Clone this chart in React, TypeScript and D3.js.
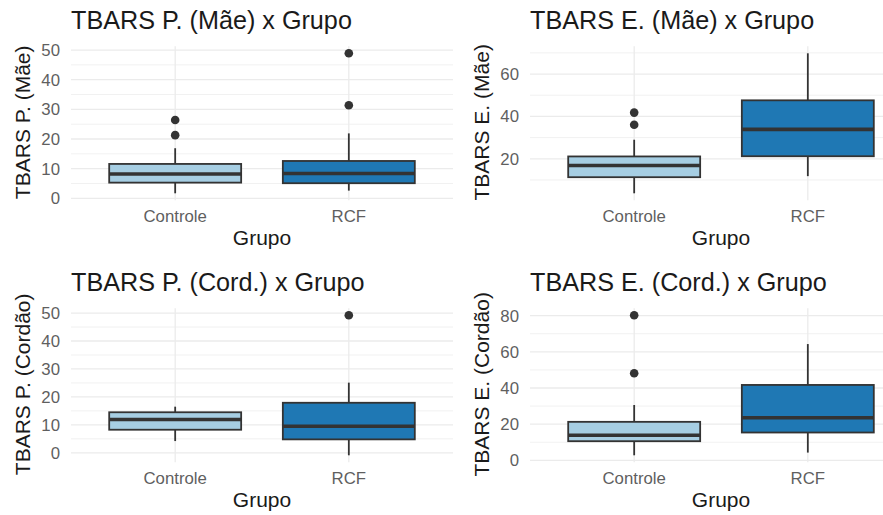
import React from "react";
import * as d3 from "d3";

const groups = ["Controle", "RCF"];
const fills = ["#a6cee3", "#1f78b4"];

const panelTitles = [
  "TBARS P. (Mãe) x Grupo",
  "TBARS E. (Mãe) x Grupo",
  "TBARS P. (Cord.) x Grupo",
  "TBARS E. (Cord.) x Grupo",
];
const yTitles = ["TBARS P. (Mãe)", "TBARS E. (Mãe)", "TBARS P. (Cordão)", "TBARS E. (Cordão)"];
const xTitle = "Grupo";

// [lower whisker, Q1, median, Q3, upper whisker] per group
const pMaeStats = [[1.7, 5.3, 8.2, 11.6, 16.9], [2.6, 5.1, 8.4, 12.6, 21.9]];
const pMaeOutliers = [[21.3, 26.4], [31.4, 48.9]];
const eMaeStats = [[3.7, 11.3, 16.8, 21.1, 29.0], [11.8, 21.2, 33.9, 47.6, 69.8]];
const eMaeOutliers = [[36.1, 41.8], []];
const pCordStats = [[4.2, 8.25, 11.9, 14.5, 16.5], [-0.9, 4.8, 9.5, 17.9, 25.1]];
const pCordOutliers = [[], [49.2]];
const eCordStats = [[2.8, 10.6, 13.9, 21.3, 30.6], [4.3, 15.4, 23.6, 41.7, 64.3]];
const eCordOutliers = [[48.2, 80.2], []];

const pMaeTicks = [0, 10, 20, 30, 40, 50];
const eMaeTicks = [20, 40, 60];
const pCordTicks = [0, 10, 20, 30, 40, 50];
const eCordTicks = [0, 20, 40, 60, 80];

const panelStats = [pMaeStats, eMaeStats, pCordStats, eCordStats];
const panelOutliers = [pMaeOutliers, eMaeOutliers, pCordOutliers, eCordOutliers];
const panelTicks = [pMaeTicks, eMaeTicks, pCordTicks, eCordTicks];

const W = 883;
const H = 515;
const colX = [71, 530];
const panelW = 382;
const rowY = [46.3, 308.3];
const panelH = 154;
const FONT = "'Liberation Sans', Arial, Helvetica, sans-serif";

function Panel({ idx }: { idx: number }) {
  const stats = panelStats[idx];
  const outs = panelOutliers[idx];
  const ticks = panelTicks[idx];
  const x0 = colX[idx % 2];
  const y0 = rowY[Math.floor(idx / 2)];
  const all = [...stats.flat(), ...outs.flat()];
  const mn = d3.min(all) as number;
  const mx = d3.max(all) as number;
  const ex = (mx - mn) * 0.05;
  const y = d3.scaleLinear().domain([mn - ex, mx + ex]).range([y0 + panelH, y0]);
  const x = d3.scalePoint<string>().domain(groups).range([x0, x0 + panelW]).padding(0.6);
  const step = x.step();
  const bw = step * 0.76;
  const [d0, d1] = y.domain();
  const majorStep = ticks[1] - ticks[0];
  const minors: number[] = [];
  const ext = [ticks[0] - majorStep, ...ticks, ticks[ticks.length - 1] + majorStep];
  for (let i = 0; i < ext.length - 1; i++) {
    const m = (ext[i] + ext[i + 1]) / 2;
    if (m >= d0 && m <= d1) minors.push(m);
  }
  const gridColor = "#ebebeb";
  const dark = "#333333";
  const yTitleX = x0 - 41;
  return (
    <g>
      <text x={x0} y={y0 - 17} fontSize={25.2} fill="#1a1a1a" fontFamily={FONT}>
        {panelTitles[idx]}
      </text>
      {minors.map((m) => (
        <line key={"mi" + m} x1={x0} x2={x0 + panelW} y1={y(m)} y2={y(m)} stroke={gridColor} strokeWidth={0.7} />
      ))}
      {ticks.map((t) => (
        <line key={"ma" + t} x1={x0} x2={x0 + panelW} y1={y(t)} y2={y(t)} stroke={gridColor} strokeWidth={1.3} />
      ))}
      {groups.map((g) => (
        <line key={"v" + g} x1={x(g)} x2={x(g)} y1={y0} y2={y0 + panelH} stroke={gridColor} strokeWidth={1.3} />
      ))}
      {ticks.map((t) => (
        <text key={"tl" + t} x={x0 - 11} y={y(t)} dy="0.36em" textAnchor="end" fontSize={16.8} fill="#5f5f5f" fontFamily={FONT}>
          {t}
        </text>
      ))}
      {groups.map((g) => (
        <text key={"xl" + g} x={x(g)} y={y0 + panelH + 22} textAnchor="middle" fontSize={16.8} fill="#5f5f5f" fontFamily={FONT}>
          {g}
        </text>
      ))}
      <text x={(x0 + x0 + panelW) / 2} y={y0 + panelH + 44.5} textAnchor="middle" fontSize={21} fill="#1a1a1a" fontFamily={FONT}>
        {xTitle}
      </text>
      <text
        transform={`translate(${yTitleX},${y0 + panelH / 2 - 1}) rotate(-90)`}
        textAnchor="middle"
        fontSize={21}
        fill="#1a1a1a"
        fontFamily={FONT}
      >
        {yTitles[idx]}
      </text>
      {groups.map((g, gi) => {
        const s = stats[gi];
        const cx = x(g) as number;
        return (
          <g key={"b" + g}>
            <line x1={cx} x2={cx} y1={y(s[0])} y2={y(s[1])} stroke={dark} strokeWidth={1.8} />
            <line x1={cx} x2={cx} y1={y(s[3])} y2={y(s[4])} stroke={dark} strokeWidth={1.8} />
            <rect x={cx - bw / 2} y={y(s[3])} width={bw} height={y(s[1]) - y(s[3])} fill={fills[gi]} stroke={dark} strokeWidth={1.8} />
            <line x1={cx - bw / 2} x2={cx + bw / 2} y1={y(s[2])} y2={y(s[2])} stroke={dark} strokeWidth={3.6} />
            {outs[gi].map((o) => (
              <circle key={"o" + o} cx={cx} cy={y(o)} r={4.3} fill={dark} />
            ))}
          </g>
        );
      })}
    </g>
  );
}

export default function App() {
  return (
    <svg width={W} height={H} style={{ position: "absolute", left: 0, top: 0, background: "#fff" }}>
      <rect width={W} height={H} fill="#fff" />
      {[0, 1, 2, 3].map((i) => (
        <Panel key={i} idx={i} />
      ))}
    </svg>
  );
}
